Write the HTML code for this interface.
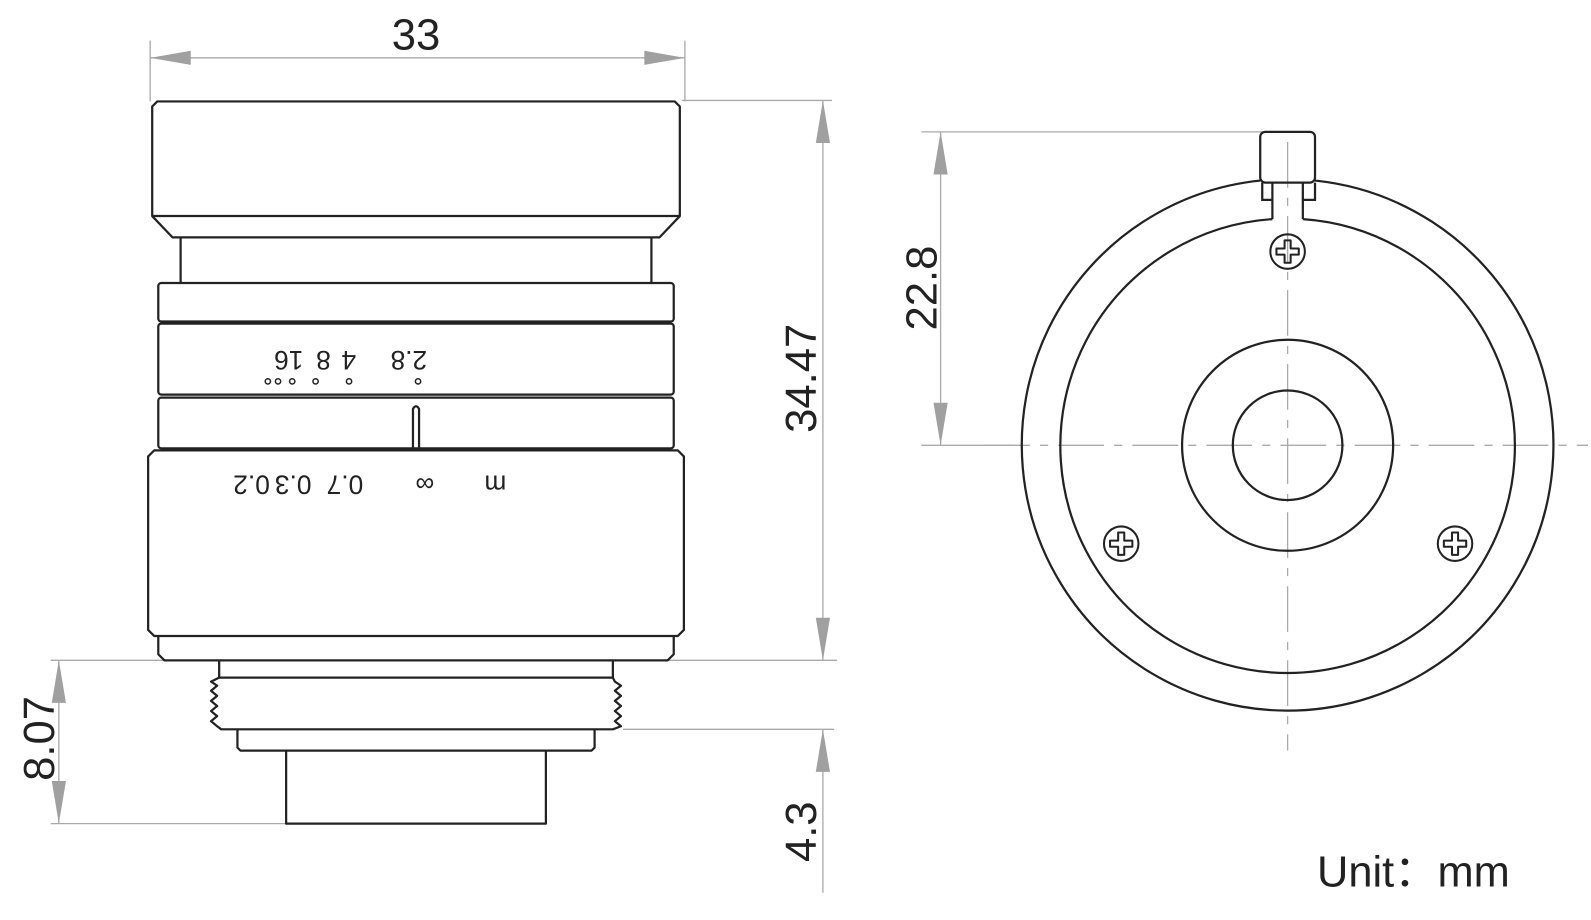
<!DOCTYPE html>
<html><head><meta charset="utf-8"><style>
html,body{margin:0;padding:0;background:#fff;}
svg{display:block;}
text{font-family:"Liberation Sans","Noto Sans CJK SC",sans-serif;}
</style></head><body>
<svg width="1591" height="920" viewBox="0 0 1568 907" preserveAspectRatio="none" xmlns="http://www.w3.org/2000/svg">
<defs>
<g id="screw">
<circle r="17" fill="none" stroke="#222" stroke-width="2"/>
<path d="M-3,-11 H3 V-3 H11 V3 H3 V11 H-3 V3 H-11 V-3 H-3 Z" fill="none" stroke="#222" stroke-width="2" stroke-linejoin="round"/>
</g>
</defs>
<g stroke="#aaa" stroke-width="1.3" fill="none">
<line x1="148" y1="40" x2="148" y2="100"/>
<line x1="675" y1="40" x2="675" y2="100"/>
<line x1="148" y1="57" x2="675" y2="57"/>
<line x1="672" y1="99" x2="820" y2="99"/>
<line x1="50" y1="651" x2="825" y2="651"/>
<line x1="811" y1="99" x2="811" y2="651"/>
<line x1="58" y1="651" x2="58" y2="812"/>
<line x1="50" y1="812" x2="282" y2="812"/>
<line x1="614" y1="719" x2="822" y2="719"/>
<line x1="811" y1="719" x2="811" y2="880"/>
<line x1="908" y1="130" x2="1245" y2="130"/>
<line x1="927" y1="130" x2="927" y2="439"/>
<line x1="908" y1="439" x2="1000" y2="439"/>
</g>
<g fill="#a0a0a0">
<polygon points="148,57 188,50 188,64"/>
<polygon points="675,57 635,50 635,64"/>
<polygon points="811,99 804,141 818,141"/>
<polygon points="811,651 804,609 818,609"/>
<polygon points="58,651 51,693 65,693"/>
<polygon points="58,812 51,770 65,770"/>
<polygon points="811,719 804,761 818,761"/>
<polygon points="927,130 920,172 934,172"/>
<polygon points="927,439 920,397 934,397"/>
</g>
<g stroke="#222" stroke-width="2.2" fill="none" stroke-linejoin="round">
<path d="M155,100 H665 L670,105 V213 L650,234 H170 L150,213 V105 Z"/>
<line x1="150" y1="213" x2="670" y2="213"/>
<line x1="178" y1="234" x2="178" y2="278"/>
<line x1="642" y1="234" x2="642" y2="278"/>
<rect x="156" y="279" width="508" height="38" rx="3"/>
<rect x="156" y="319" width="508" height="70" rx="3"/>
<rect x="156" y="392" width="508" height="50" rx="3"/>
<path d="M407,442 V403 Q410,398 413,403 V442"/>
<path d="M152,444 H668 L674,450 V621 L668,627 H152 L146,621 V450 Z"/>
<path d="M156,627 V645 L162,651 H658 L664,645 V627"/>
<path d="M216,651 V668 H604 V651"/>
<path d="M216,668 L208,672 L214,676 L208,681 L214,686 L208,691 L214,696 L208,701 L214,706 L208,711 L214,716 L218,719 H604 L612,716 L606,711 L612,706 L606,701 L612,696 L606,691 L612,686 L606,681 L612,676 L606,672 L604,668"/>
<path d="M234,719 V737 L237,740 H583 L586,737 V719"/>
<path d="M282,740 V812 H538 V740"/>
</g>
<g fill="none" stroke="#222" stroke-width="1.5">
<circle cx="264" cy="376" r="2.6"/><circle cx="274" cy="376" r="2.6"/><circle cx="288" cy="376" r="2.6"/>
<circle cx="311" cy="376" r="2.6"/><circle cx="344" cy="376" r="2.6"/><circle cx="412" cy="376" r="2.6"/>
</g>
<g font-size="26" fill="#222">
<text transform="translate(421,346) rotate(180)">2.8</text>
<text transform="translate(351,346) rotate(180)">4</text>
<text transform="translate(326,346) rotate(180)">8</text>
<text transform="translate(299,346) rotate(180)">16</text>
<text transform="translate(358,469) rotate(180)">0.7</text>
<text transform="translate(307,469) rotate(180)">0.3</text>
<text transform="translate(266,469) rotate(180)">0.2</text>
<text transform="translate(428,469) rotate(180)">∞</text>
<text transform="translate(499,469) rotate(180)">m</text>
</g>
<g stroke="#aaa" stroke-width="1.3" fill="none">
<line x1="970" y1="439" x2="1565" y2="439" stroke-dasharray="45,10,8,10"/>
<line x1="1269" y1="140" x2="1269" y2="740" stroke-dasharray="45,10,8,10"/>
</g>
<g stroke="#222" stroke-width="2.2" fill="none">
<path d="M1242,178 A262,262 0 1 0 1296,178"/>
<path d="M1254,216 A224,224 0 1 0 1284,216"/>
<circle cx="1269" cy="439" r="104"/>
<circle cx="1269" cy="439" r="54"/>
<rect x="1242" y="130" width="54" height="50" rx="5"/>
<path d="M1244,180 V197 H1254 M1284,197 H1296 V180"/>
<line x1="1254" y1="180" x2="1254" y2="216"/>
<line x1="1284" y1="180" x2="1284" y2="216"/>
</g>
<use href="#screw" x="1269" y="248"/>
<use href="#screw" x="1105" y="536"/>
<use href="#screw" x="1434" y="536"/>
<g fill="#222" font-size="43">
<text x="410" y="49" text-anchor="middle">33</text>
<text transform="translate(804,373) rotate(-90)" text-anchor="middle">34.47</text>
<text transform="translate(53,728) rotate(-90)" text-anchor="middle">8.07</text>
<text transform="translate(804,820) rotate(-90)" text-anchor="middle">4.3</text>
<text transform="translate(923,284) rotate(-90)" text-anchor="middle">22.8</text>
<text x="1298" y="874" textLength="190" lengthAdjust="spacingAndGlyphs">Unit：mm</text>
</g>
</svg>
</body></html>
